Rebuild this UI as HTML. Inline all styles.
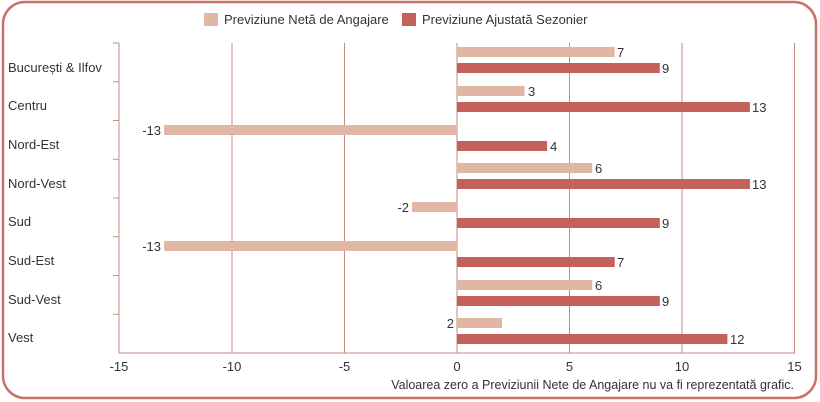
<!DOCTYPE html><html><head><meta charset="utf-8"><style>body{margin:0;background:#fff}svg{display:block}text{font-family:"Liberation Sans",sans-serif;fill:#333}</style></head><body>
<svg width="820" height="402" viewBox="0 0 820 402">
<rect x="3" y="2" width="813" height="396" rx="22" fill="#fff" stroke="#c97266" stroke-width="2.5"/>
<rect x="204" y="13" width="14" height="13" fill="#e1b6a5"/><text x="224" y="24" font-size="13">Previziune Netă de Angajare</text>
<rect x="402" y="13" width="14" height="13" fill="#c3615a"/><text x="422" y="24" font-size="13">Previziune Ajustată Sezonier</text>
<g stroke="#c98a80" stroke-width="1">
<line x1="232" y1="43" x2="232" y2="353"/><line x1="344.5" y1="43" x2="344.5" y2="353"/><line x1="457" y1="43" x2="457" y2="353"/><line x1="569.5" y1="43" x2="569.5" y2="353"/><line x1="682" y1="43" x2="682" y2="353"/><line x1="794.5" y1="43" x2="794.5" y2="353"/>
<line x1="119" y1="43" x2="119" y2="353"/><line x1="119" y1="353" x2="795" y2="353"/>
<line x1="113" y1="43" x2="119" y2="43"/><line x1="113" y1="81.75" x2="119" y2="81.75"/><line x1="113" y1="120.5" x2="119" y2="120.5"/><line x1="113" y1="159.25" x2="119" y2="159.25"/><line x1="113" y1="198" x2="119" y2="198"/><line x1="113" y1="236.75" x2="119" y2="236.75"/><line x1="113" y1="275.5" x2="119" y2="275.5"/><line x1="113" y1="314.25" x2="119" y2="314.25"/>
</g>
<g font-size="13">
<text x="8" y="72">București &amp; Ilfov</text><text x="8" y="110">Centru</text><text x="8" y="149">Nord-Est</text><text x="8" y="188">Nord-Vest</text><text x="8" y="226">Sud</text><text x="8" y="265">Sud-Est</text><text x="8" y="304">Sud-Vest</text><text x="8" y="342">Vest</text>
</g>
<g fill="#e1b6a5">
<rect x="457" y="47" width="157.7" height="10"/><rect x="457" y="86" width="67.6" height="10"/><rect x="164.1" y="125" width="292.9" height="10"/><rect x="457" y="163" width="135.2" height="10"/><rect x="412" y="202" width="45" height="10"/><rect x="164.1" y="241" width="292.9" height="10"/><rect x="457" y="280" width="135.2" height="10"/><rect x="457" y="318" width="45" height="10"/>
</g>
<g fill="#c3615a">
<rect x="457" y="63" width="202.8" height="10"/><rect x="457" y="102" width="292.9" height="10"/><rect x="457" y="141" width="90.1" height="10"/><rect x="457" y="179" width="292.9" height="10"/><rect x="457" y="218" width="202.8" height="10"/><rect x="457" y="257" width="157.7" height="10"/><rect x="457" y="296" width="202.8" height="10"/><rect x="457" y="334" width="270.4" height="10"/>
</g>
<g font-size="13">
<text x="617" y="57">7</text><text x="662" y="73">9</text>
<text x="528" y="96">3</text><text x="752" y="112">13</text>
<text x="161" y="135" text-anchor="end">-13</text><text x="550" y="151">4</text>
<text x="595" y="173">6</text><text x="752" y="189">13</text>
<text x="409" y="212" text-anchor="end">-2</text><text x="662" y="228">9</text>
<text x="161" y="251" text-anchor="end">-13</text><text x="617" y="267">7</text>
<text x="595" y="290">6</text><text x="662" y="306">9</text>
<text x="454" y="328" text-anchor="end">2</text><text x="730" y="344">12</text>
</g>
<g font-size="13" text-anchor="middle">
<text x="119" y="371">-15</text><text x="232" y="371">-10</text><text x="344.5" y="371">-5</text><text x="457" y="371">0</text><text x="569.5" y="371">5</text><text x="682" y="371">10</text><text x="794.5" y="371">15</text>
</g>
<text x="794" y="389" font-size="12.5" text-anchor="end">Valoarea zero a Previziunii Nete de Angajare nu va fi reprezentată grafic.</text>
</svg></body></html>
